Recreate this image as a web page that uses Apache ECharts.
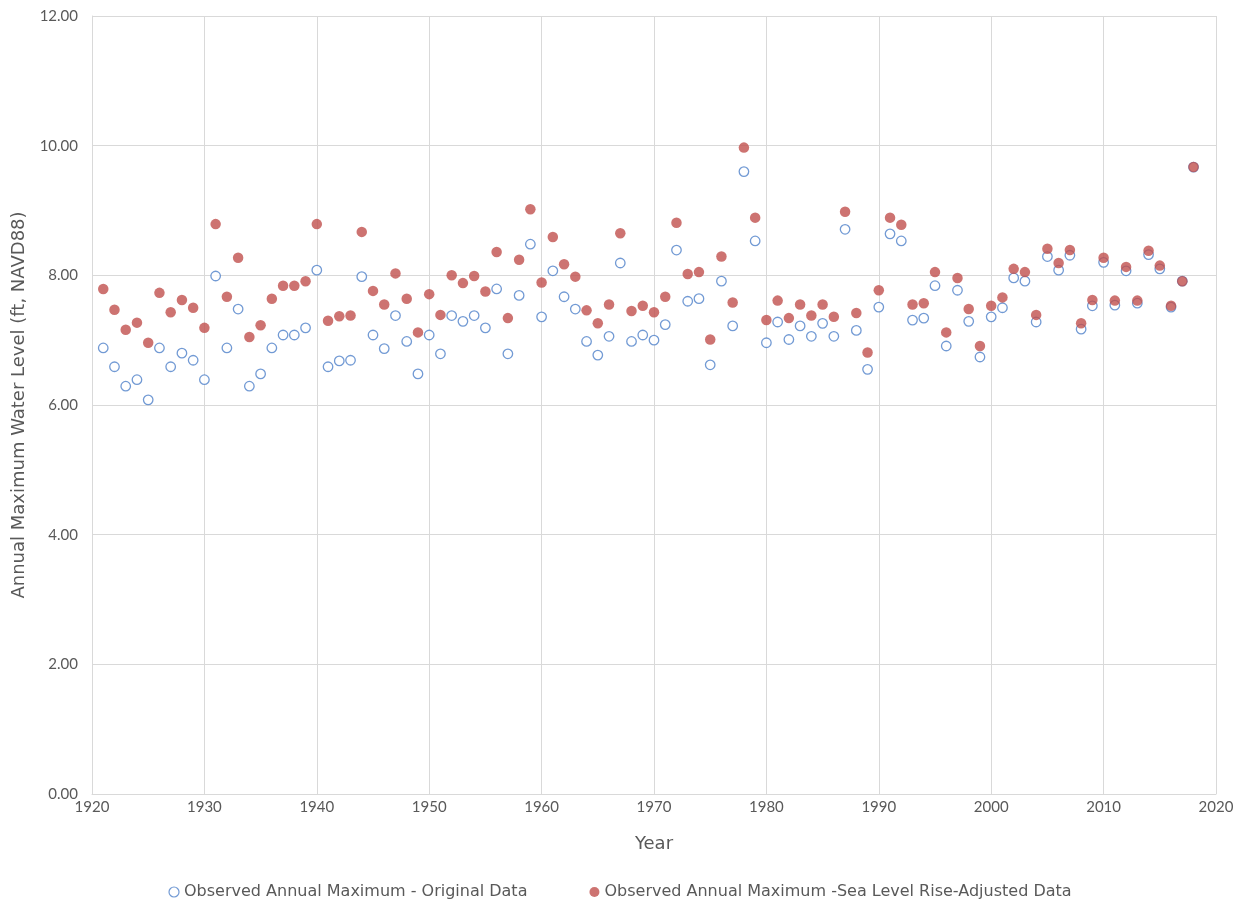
<!DOCTYPE html>
<html>
<head>
<meta charset="utf-8">
<script src="https://cdn.jsdelivr.net/npm/echarts@6/dist/echarts.min.js"></script>
<style>
  html, body { margin: 0; padding: 0; background: #ffffff; }
  #chart { width: 1240px; height: 907px; }
</style>
</head>
<body>
<div id="chart"></div>
<script>
// Annual maximum water levels (ft, NAVD88), 1921-2018
const years = [
  1921, 1922, 1923, 1924, 1925, 1926, 1927, 1928, 1929, 1930,
  1931, 1932, 1933, 1934, 1935, 1936, 1937, 1938, 1939, 1940,
  1941, 1942, 1943, 1944, 1945, 1946, 1947, 1948, 1949, 1950,
  1951, 1952, 1953, 1954, 1955, 1956, 1957, 1958, 1959, 1960,
  1961, 1962, 1963, 1964, 1965, 1966, 1967, 1968, 1969, 1970,
  1971, 1972, 1973, 1974, 1975, 1976, 1977, 1978, 1979, 1980,
  1981, 1982, 1983, 1984, 1985, 1986, 1987, 1988, 1989, 1990,
  1991, 1992, 1993, 1994, 1995, 1996, 1997, 1998, 1999, 2000,
  2001, 2002, 2003, 2004, 2005, 2006, 2007, 2008, 2009, 2010,
  2011, 2012, 2013, 2014, 2015, 2016, 2017, 2018
];

const originalData = [
  6.88, 6.59, 6.29, 6.39, 6.08, 6.88, 6.59, 6.80, 6.69, 6.39,
  7.99, 6.88, 7.48, 6.29, 6.48, 6.88, 7.08, 7.08, 7.19, 8.08,
  6.59, 6.68, 6.69, 7.98, 7.08, 6.87, 7.38, 6.98, 6.48, 7.08,
  6.79, 7.38, 7.29, 7.38, 7.19, 7.79, 6.79, 7.69, 8.48, 7.36,
  8.07, 7.67, 7.48, 6.98, 6.77, 7.06, 8.19, 6.98, 7.08, 7.00,
  7.24, 8.39, 7.60, 7.64, 6.62, 7.91, 7.22, 9.60, 8.53, 6.96,
  7.28, 7.01, 7.22, 7.06, 7.26, 7.06, 8.71, 7.15, 6.55, 7.51,
  8.64, 8.53, 7.31, 7.34, 7.84, 6.91, 7.77, 7.29, 6.74, 7.36,
  7.50, 7.96, 7.91, 7.28, 8.29, 8.08, 8.31, 7.17, 7.53, 8.20,
  7.54, 8.07, 7.57, 8.32, 8.10, 7.51, 7.91, 9.67
];

const adjustedData = [
  7.79, 7.47, 7.16, 7.27, 6.96, 7.73, 7.43, 7.62, 7.50, 7.19,
  8.79, 7.67, 8.27, 7.05, 7.23, 7.64, 7.84, 7.84, 7.91, 8.79,
  7.30, 7.37, 7.38, 8.67, 7.76, 7.55, 8.03, 7.64, 7.12, 7.71,
  7.39, 8.00, 7.88, 7.99, 7.75, 8.36, 7.34, 8.24, 9.02, 7.89,
  8.59, 8.17, 7.98, 7.46, 7.26, 7.55, 8.65, 7.45, 7.53, 7.43,
  7.67, 8.81, 8.02, 8.05, 7.01, 8.29, 7.58, 9.97, 8.89, 7.31,
  7.61, 7.34, 7.55, 7.38, 7.55, 7.36, 8.98, 7.42, 6.81, 7.77,
  8.89, 8.78, 7.55, 7.57, 8.05, 7.12, 7.96, 7.48, 6.91, 7.53,
  7.66, 8.10, 8.05, 7.39, 8.41, 8.19, 8.39, 7.26, 7.62, 8.27,
  7.61, 8.13, 7.61, 8.38, 8.15, 7.53, 7.91, 9.67
];

const seriesNames = [
  'Observed Annual Maximum - Original Data',
  'Observed Annual Maximum -Sea Level Rise-Adjusted Data'
];

const textColor = '#595959';
const gridColor = '#d9d9d9';
const tickFont = 'Lato, "Open Sans", sans-serif';
const titleFont = '"DejaVu Sans", Lato, sans-serif';

const pairs = (vals) => years.map((y, i) => [y, vals[i]]);

const chart = echarts.init(document.getElementById('chart'), null, { renderer: 'canvas' });

chart.setOption({
  animation: false,
  backgroundColor: '#ffffff',
  textStyle: { fontFamily: tickFont, color: textColor },
  grid: { left: 92, right: 24, top: 16, bottom: 113, containLabel: false, outerBoundsMode: 'none' },
  legend: {
    bottom: 2,
    left: 'center',
    itemGap: 62,
    itemWidth: 10,
    itemHeight: 10,
    textStyle: { fontSize: 16, color: textColor, fontFamily: titleFont },
    data: [
      { name: seriesNames[0], icon: 'circle', itemStyle: { color: '#ffffff', borderColor: '#4f81c9', borderWidth: 1.2 } },
      { name: seriesNames[1], icon: 'circle', itemStyle: { color: '#c0504d' } }
    ]
  },
  xAxis: {
    type: 'value',
    min: 1920,
    max: 2020,
    interval: 10,
    name: 'Year',
    nameLocation: 'middle',
    nameGap: 41,
    nameTextStyle: { fontSize: 18, color: textColor, fontFamily: titleFont },
    axisLine: { show: true, lineStyle: { color: gridColor, width: 1 } },
    axisTick: { show: false },
    axisLabel: { fontSize: 15, color: textColor, margin: 6, formatter: (v) => String(v) },
    splitLine: { show: true, lineStyle: { color: gridColor, width: 1 } }
  },
  yAxis: {
    type: 'value',
    min: 0,
    max: 12,
    interval: 2,
    name: 'Annual Maximum Water Level (ft, NAVD88)',
    nameLocation: 'middle',
    nameGap: 62,
    nameTextStyle: { fontSize: 18, color: textColor, fontFamily: titleFont },
    axisLine: { show: true, lineStyle: { color: gridColor, width: 1 } },
    axisTick: { show: false },
    axisLabel: { fontSize: 15, color: textColor, margin: 14, formatter: (v) => v.toFixed(2) },
    splitLine: { show: true, lineStyle: { color: gridColor, width: 1 } }
  },
  series: [
    {
      name: seriesNames[0],
      type: 'scatter',
      symbol: 'circle',
      symbolSize: 9.5,
      itemStyle: { color: '#ffffff', borderColor: '#4f81c9', borderWidth: 1.3 },
      data: pairs(originalData),
      z: 2
    },
    {
      name: seriesNames[1],
      type: 'scatter',
      symbol: 'circle',
      symbolSize: 10.5,
      itemStyle: { color: '#c0504d' },
      data: pairs(adjustedData),
      z: 3
    }
  ]
});
</script>
</body>
</html>
